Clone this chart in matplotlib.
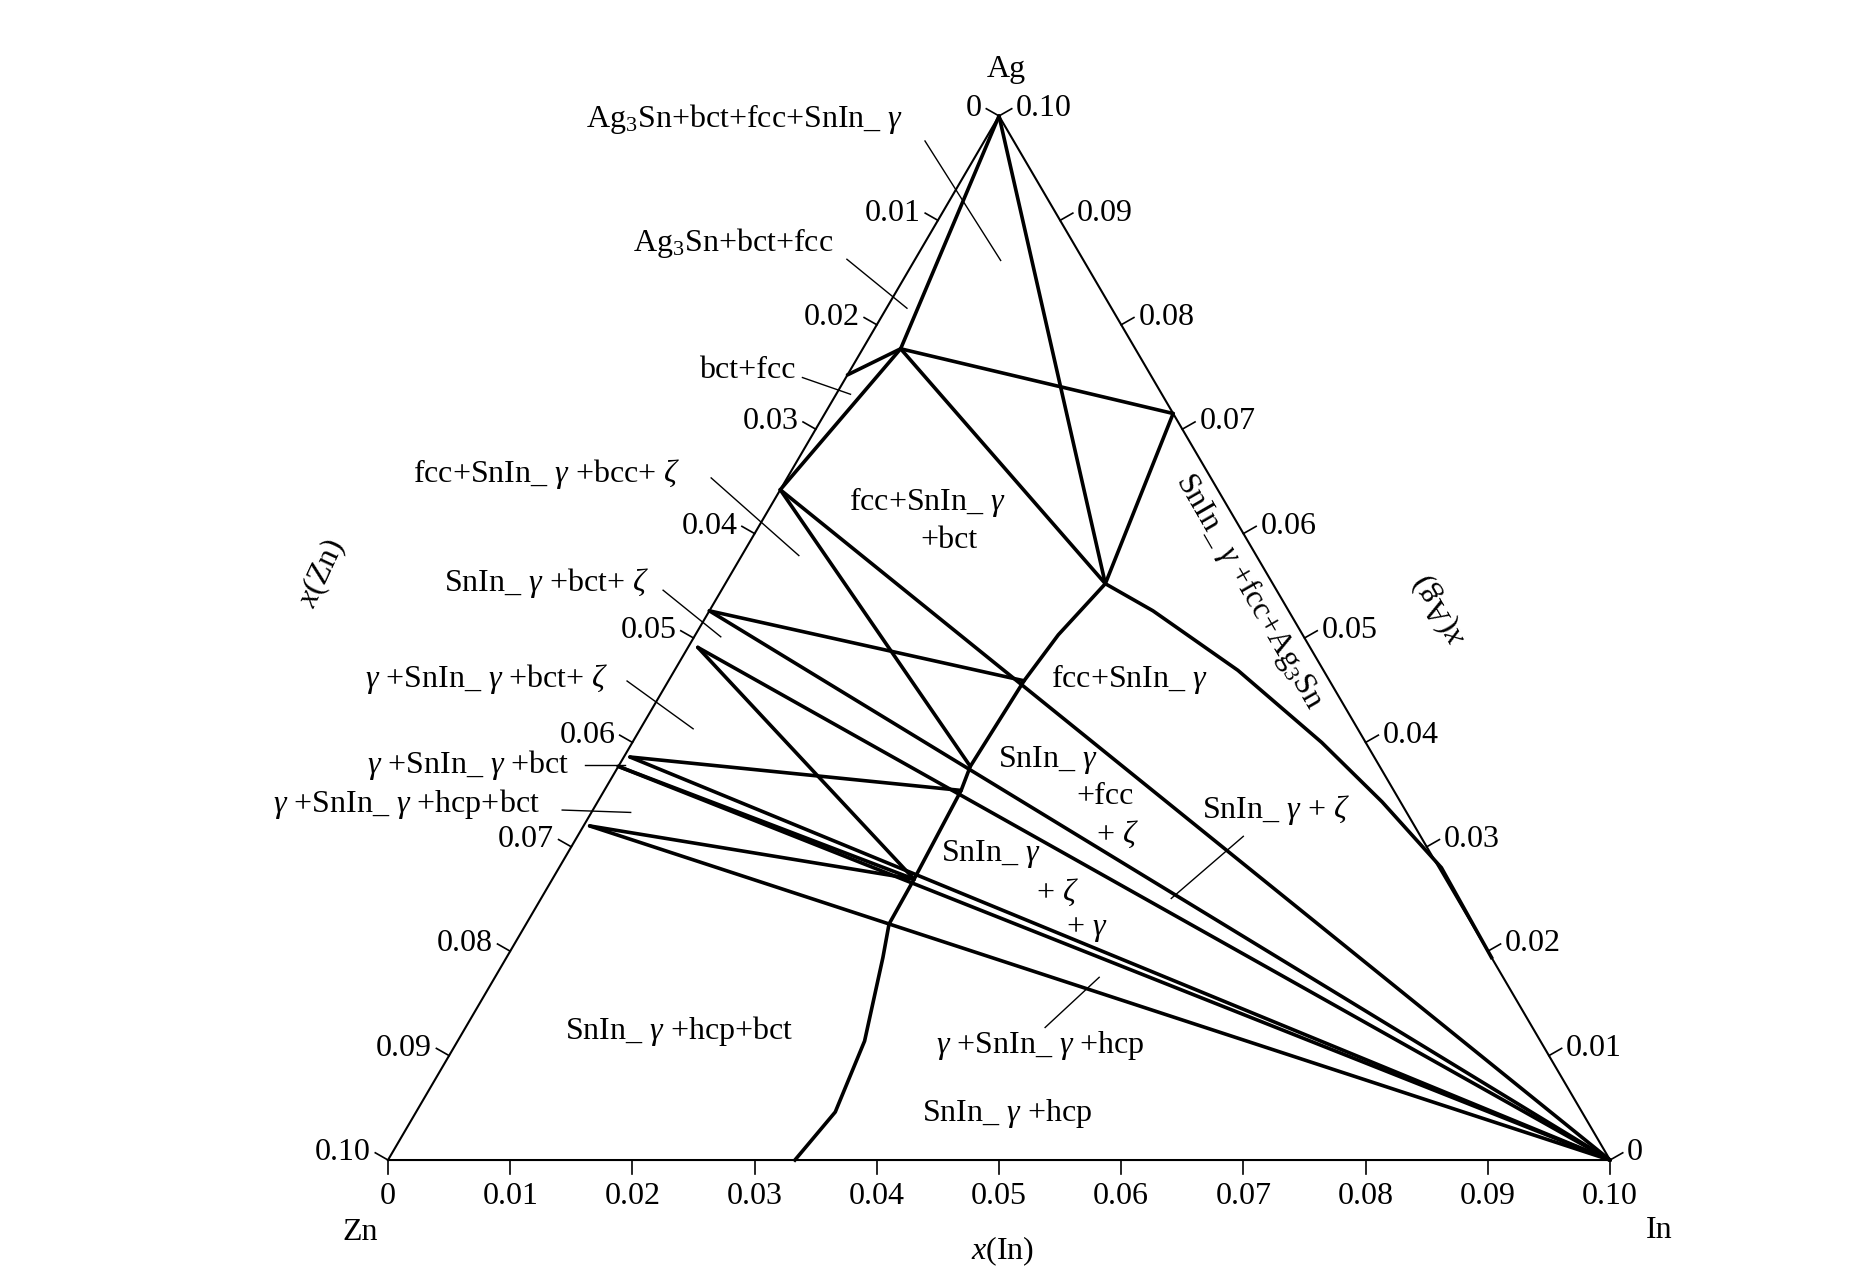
import numpy as np
import matplotlib.pyplot as plt

plt.rcParams['font.family'] = ['Liberation Serif', 'DejaVu Serif']
plt.rcParams['mathtext.fontset'] = 'custom'
plt.rcParams['mathtext.rm'] = 'Liberation Serif'
plt.rcParams['mathtext.it'] = 'Liberation Serif:italic'

# compositions (x(In), x(Ag)); x(Zn) = 0.1 - x(In) - x(Ag)
nodes = {
    'Ag': (0.0, 0.100), 'In': (0.100, 0.0),
    'a': (0.0031, 0.0777), 'b': (0.0, 0.0752), 'c': (0.0, 0.0642),
    'd': (0.0311, 0.0552), 'e': (0.0285, 0.0715),
    'f': (0.0, 0.0526), 'g': (0.0008, 0.0491),
    'h': (0.0005, 0.0386), 'i': (0.0, 0.0377), 'j': (0.0005, 0.0320),
    'k': (0.0291, 0.0459), 'l': (0.0288, 0.0377), 'm': (0.0292, 0.0354),
    'n': (0.0296, 0.0269), 'o': (0.0297, 0.0226),
}
tie_lines = [('Ag', 'a'), ('b', 'a'), ('a', 'c'), ('Ag', 'd'), ('a', 'e'),
             ('a', 'd'), ('e', 'd'), ('c', 'In'), ('c', 'l'), ('f', 'k'),
             ('f', 'In'), ('g', 'n'), ('g', 'In'), ('h', 'm'), ('h', 'In'),
             ('i', 'n'), ('i', 'In'), ('j', 'n'), ('j', 'In')]

curve1_in = [0.0311, 0.0297, 0.0291, 0.0288, 0.0292, 0.0296, 0.0297, 0.0308, 0.0333, 0.0343, 0.0333]
curve1_ag = [0.0552, 0.0503, 0.0459, 0.0377, 0.0354, 0.0269, 0.0226, 0.0194, 0.0114, 0.0046, 0.0]
curve2_in = [0.0311, 0.0363, 0.0461, 0.0564, 0.0642, 0.0722, 0.0806]
curve2_ag = [0.0552, 0.0526, 0.0469, 0.0400, 0.0343, 0.0280, 0.0194]

ticks = [round(0.01 * k, 2) for k in range(11)]


def tern(x_in, x_ag):
    x_in = np.asarray(x_in); x_ag = np.asarray(x_ag)
    return x_in + x_ag / 2, x_ag * np.sqrt(3) / 2


fig = plt.figure(figsize=(18.74, 12.76), dpi=100)
ax = fig.add_axes([0, 0, 1, 1])
ax.set_xlim(-0.03175, 0.1216)
ax.set_ylim(-0.00962, 0.09622)
ax.axis('off')

# triangle
tx, ty = tern([0, 0.1, 0, 0], [0, 0, 0.1, 0])
ax.plot(tx, ty, color='k', lw=1.5)

lw = 2.6
for p, q in tie_lines:
    x, y = tern([nodes[p][0], nodes[q][0]], [nodes[p][1], nodes[q][1]])
    ax.plot(x, y, color='k', lw=lw, solid_capstyle='round')
for ci, ca in [(curve1_in, curve1_ag), (curve2_in, curve2_ag)]:
    x, y = tern(ci, ca)
    ax.plot(x, y, color='k', lw=lw)

fs = 23
tl = 0.0012
s3 = np.sqrt(3) / 2
for v in ticks:
    lab = '0' if v == 0 else f'{v:.2f}'
    # bottom: x(In)
    x, y = tern(v, 0)
    ax.plot([x, x], [y, y - tl], color='k', lw=1.2)
    ax.text(x, y - 0.0018, lab, ha='center', va='top', fontsize=fs)
    # left: x(Zn)
    x, y = tern(0, 0.1 - v)
    ax.plot([x, x - tl * s3], [y, y + tl * 0.5], color='k', lw=1.2)
    ax.text(x - 0.0014, y + 0.0006, lab, ha='right', va='center', fontsize=fs)
    # right: x(Ag)
    x, y = tern(0.1 - v, v)
    ax.plot([x, x + tl * s3], [y, y + tl * 0.5], color='k', lw=1.2)
    ax.text(x + 0.0014, y + 0.0006, lab, ha='left', va='center', fontsize=fs)


def fp(px, py):
    return px / 1560, 1 - py / 1068


G = r'$\gamma$'
Z = r'$\zeta$'
labels = [
    ('Ag', 838, 58), ('Zn', 300, 1032), ('In', 1381, 1030), ('$x$(In)', 835, 1047),
    (f'Ag$_3$Sn+bct+fcc+SnIn_ {G}', 620, 100),
    ('Ag$_3$Sn+bct+fcc', 610, 203),
    ('bct+fcc', 622, 310),
    (f'fcc+SnIn_ {G} +bcc+ {Z}', 455, 397),
    (f'fcc+SnIn_ {G}', 772, 420), ('+bct', 790, 452),
    (f'SnIn_ {G} +bct+ {Z}', 455, 488),
    (f'{G} +SnIn_ {G} +bct+ {Z}', 405, 568),
    (f'fcc+SnIn_ {G}', 940, 568),
    (f'{G} +SnIn_ {G} +bct', 390, 640),
    (f'SnIn_ {G}', 872, 636), ('+fcc', 920, 667), (f'+ {Z}', 930, 698),
    (f'{G} +SnIn_ {G} +hcp+bct', 338, 673),
    (f'SnIn_ {G} + {Z}', 1062, 678),
    (f'SnIn_ {G}', 825, 715), (f'+ {Z}', 880, 747), (f'+ {G}', 905, 778),
    (f'{G} +SnIn_ {G} +hcp', 866, 875),
    (f'SnIn_ {G} +hcp+bct', 565, 863),
    (f'SnIn_ {G} +hcp', 838, 932),
]
for t, px, py in labels:
    fig.text(*fp(px, py), t, ha='center', va='center', fontsize=fs)

fig.text(*fp(1040, 495), f'SnIn_ {G} +fcc+Ag$_3$Sn', ha='center', va='center', fontsize=fs, rotation=-60)
fig.text(*fp(1198, 510), '$x$(Ag)', ha='center', va='center', fontsize=fs, rotation=120)
fig.text(*fp(268, 480), '$x$(Zn)', ha='center', va='center', fontsize=fs, rotation=65)

leaders = [((770, 118), (833, 218)), ((705, 217), (755, 258)), ((668, 316), (708, 330)),
           ((592, 400), (665, 465)), ((552, 494), (600, 533)), ((522, 570), (577, 610)),
           ((487, 640), (520, 640)), ((468, 678), (525, 680)), ((1035, 700), (975, 752)),
           ((870, 860), (915, 818))]
for p0, p1 in leaders:
    a, b = fp(*p0); c, d = fp(*p1)
    fig.add_artist(plt.Line2D([a, c], [b, d], color='k', lw=1.0))

fig.savefig('out.png', dpi=100)
